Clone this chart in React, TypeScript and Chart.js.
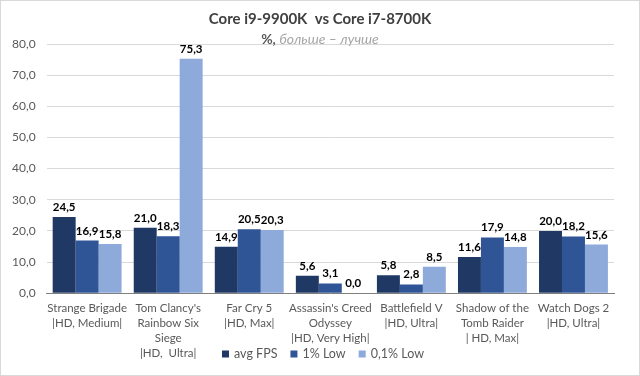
import React, { useEffect, useRef } from "react";
import { Chart, registerables } from "chart.js";

Chart.register(...registerables);

const categories: string[][] = [
  ["Strange Brigade", "|HD, Medium|"],
  ["Tom Clancy's", "Rainbow Six", "Siege", "|HD,  Ultra|"],
  ["Far Cry 5", "|HD, Max|"],
  ["Assassin's Creed", "Odyssey", "|HD, Very High|"],
  ["Battlefield V", "|HD, Ultra|"],
  ["Shadow of the", "Tomb Raider", "| HD, Max|"],
  ["Watch Dogs 2", "|HD, Ultra|"],
];
const avgFps = [24.5, 21.0, 14.9, 5.6, 5.8, 11.6, 20.0];
const low1 = [16.9, 18.3, 20.5, 3.1, 2.8, 17.9, 18.2];
const low01 = [15.8, 75.3, 20.3, 0.0, 8.5, 14.8, 15.6];
const seriesNames = ["avg FPS", "1% Low", "0,1% Low"];
const seriesColors = ["#203864", "#2f5597", "#8eaadb"];
const titleText = "Core i9-9900K  vs Core i7-8700K";
const subtitleBold = "%, ";
const subtitleItalic = "больше – лучше";

const FONT = "Lato, 'Open Sans', sans-serif";
const fmt = (v: number) => v.toFixed(1).replace(".", ",");

const overlayPlugin = {
  id: "overlay",
  afterDatasetsDraw(chart: any) {
    const ctx = chart.ctx;
    ctx.save();
    ctx.font = `bold 11.5px ${FONT}`;
    ctx.fillStyle = "#000000";
    ctx.textAlign = "center";
    ctx.textBaseline = "bottom";
    chart.data.datasets.forEach((ds: any, i: number) => {
      const meta = chart.getDatasetMeta(i);
      meta.data.forEach((bar: any, j: number) => {
        ctx.fillText(fmt(ds.data[j]), bar.x, bar.y - 4);
      });
    });
    ctx.restore();
  },
  afterDraw(chart: any) {
    const ctx = chart.ctx;
    const w = chart.width;
    ctx.save();
    ctx.font = `bold 15px ${FONT}`;
    ctx.fillStyle = "#404040";
    ctx.textAlign = "center";
    ctx.textBaseline = "middle";
    ctx.fillText(titleText, w / 2, 18);
    ctx.font = `bold 14px ${FONT}`;
    const bw = ctx.measureText(subtitleBold).width;
    ctx.font = `italic 14px ${FONT}`;
    const iw = ctx.measureText(subtitleItalic).width;
    const x = w / 2 - (bw + iw) / 2;
    ctx.textAlign = "left";
    ctx.font = `bold 14px ${FONT}`;
    ctx.fillStyle = "#595959";
    ctx.fillText(subtitleBold, x, 38);
    ctx.font = `italic 14px ${FONT}`;
    ctx.fillStyle = "#a6a6a6";
    ctx.fillText(subtitleItalic, x + bw, 38);
    // legend
    ctx.font = `12.5px ${FONT}`;
    const items = seriesNames.map((n) => ctx.measureText(n).width);
    const box = 7;
    const gapBox = 5;
    const gapItem = 13;
    const total = items.reduce((a, b) => a + b + box + gapBox, 0) + gapItem * (items.length - 1);
    let lx = 322 - total / 2;
    const ly = 353;
    ctx.textBaseline = "middle";
    seriesNames.forEach((n, i) => {
      ctx.fillStyle = seriesColors[i];
      ctx.fillRect(lx, ly - box / 2, box, box);
      ctx.fillStyle = "#595959";
      ctx.fillText(n, lx + box + gapBox, ly);
      lx += box + gapBox + items[i] + gapItem;
    });
    ctx.restore();
  },
};

export default function App() {
  const ref = useRef<HTMLCanvasElement>(null);
  useEffect(() => {
    document.body.style.margin = "0";
    const chart = new Chart(ref.current!, {
      type: "bar",
      data: {
        labels: categories,
        datasets: [avgFps, low1, low01].map((d, i) => ({
          label: seriesNames[i],
          data: d,
          backgroundColor: seriesColors[i],
          categoryPercentage: 0.85,
          barPercentage: 1.0,
        })),
      },
      options: {
        animation: false,
        responsive: false,
        maintainAspectRatio: false,
        layout: { padding: { top: 43, right: 25, bottom: 6, left: 0 } },
        plugins: {
          legend: { display: false },
          title: { display: false },
          tooltip: { enabled: false },
        },
        scales: {
          x: {
            grid: { display: false, drawTicks: false },
            border: { color: "#7f7f7f", width: 1 },
            ticks: {
              color: "#595959",
              font: { family: FONT, size: 11.5, lineHeight: 1.3 },
              maxRotation: 0,
              autoSkip: false,
              padding: 8,
            },
          },
          y: {
            min: 0,
            max: 80,
            grid: { color: "#d9d9d9", drawTicks: false },
            border: { display: false },
            ticks: {
              stepSize: 10,
              color: "#595959",
              font: { family: FONT, size: 12 },
              padding: 11,
              callback: (v: any) => fmt(Number(v)),
            },
          },
        },
      },
      plugins: [overlayPlugin],
    });
    return () => chart.destroy();
  }, []);
  return (
    <div
      style={{
        width: 640,
        height: 376,
        boxSizing: "border-box",
        border: "1px solid #d9d9d9",
        background: "#ffffff",
        position: "relative",
      }}
    >
      <canvas ref={ref} width={638} height={374} style={{ display: "block" }} />
    </div>
  );
}
